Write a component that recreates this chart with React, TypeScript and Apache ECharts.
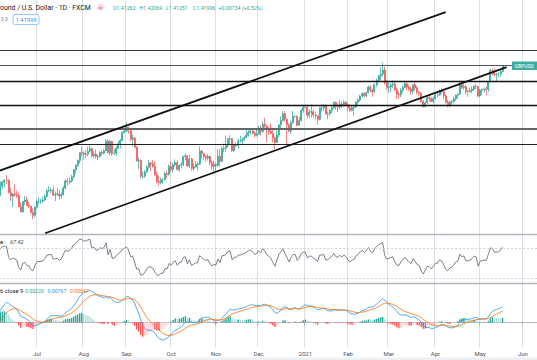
import React, { useEffect, useRef } from "react";
import * as echarts from "echarts";

// ---------- data ----------
const FIRST_DAY = "2020-06-01"; // first category (weekday calendar)
const CATEGORY_COUNT = 269;
const MONTH_NAMES = ["Jan", "Feb", "Mar", "Apr", "May", "Jun", "Jul", "Aug", "Sep", "Oct", "Nov", "Dec"];

// closes before the visible window, used only to warm up RSI / MACD
const WARMUP_CLOSES = [
  1.244, 1.2315, 1.231, 1.2355, 1.2365, 1.243, 1.2415, 1.2445, 1.259, 1.249,
  1.2435, 1.244, 1.2335, 1.2395, 1.2405, 1.2335, 1.2275, 1.2215, 1.2205, 1.213,
  1.2235, 1.2245, 1.2225, 1.2195, 1.2165, 1.221, 1.2295, 1.2275, 1.2325, 1.2345,
];

// daily GBPUSD candles [open, high, low, close], one per weekday from 2020-06-01
const CANDLES: number[][] = [
  // Jun 2020
  [1.2345, 1.251, 1.233, 1.249], [1.249, 1.258, 1.2465, 1.2565], [1.2565, 1.263, 1.2525, 1.258], [1.258, 1.2615, 1.2505, 1.256],
  [1.256, 1.273, 1.254, 1.2665], [1.2665, 1.2735, 1.263, 1.272], [1.272, 1.276, 1.265, 1.2745], [1.2745, 1.2813, 1.27, 1.274],
  [1.274, 1.276, 1.2575, 1.259], [1.259, 1.265, 1.248, 1.2545], [1.2545, 1.258, 1.24, 1.257], [1.257, 1.269, 1.253, 1.256],
  [1.256, 1.2615, 1.252, 1.2545], [1.2545, 1.259, 1.24, 1.241], [1.241, 1.2465, 1.2335, 1.2345], [1.2345, 1.248, 1.233, 1.2475],
  [1.2475, 1.2545, 1.2435, 1.2495], [1.2495, 1.254, 1.2415, 1.2425], [1.2425, 1.2475, 1.239, 1.2415], [1.2415, 1.242, 1.232, 1.2335],
  [1.2335, 1.2385, 1.2252, 1.23], [1.23, 1.2415, 1.227, 1.24],
  // Jul 2020
  [1.24, 1.25, 1.238, 1.2475], [1.2475, 1.253, 1.244, 1.2475], [1.2475, 1.2505, 1.2445, 1.248], [1.248, 1.2535, 1.246, 1.2495],
  [1.2495, 1.2565, 1.248, 1.254], [1.254, 1.263, 1.2525, 1.261], [1.261, 1.267, 1.259, 1.2615], [1.2615, 1.265, 1.258, 1.262],
  [1.262, 1.2665, 1.2545, 1.2555], [1.2555, 1.26, 1.248, 1.2565], [1.2565, 1.2645, 1.255, 1.257], [1.257, 1.262, 1.25, 1.2545],
  [1.2545, 1.259, 1.251, 1.2565], [1.2565, 1.267, 1.2545, 1.2645], [1.2645, 1.276, 1.263, 1.2735], [1.2735, 1.277, 1.2675, 1.272],
  [1.272, 1.278, 1.269, 1.2735], [1.2735, 1.2815, 1.272, 1.279], [1.279, 1.289, 1.277, 1.288], [1.288, 1.295, 1.2835, 1.2935],
  [1.2935, 1.301, 1.2915, 1.2995], [1.2995, 1.31, 1.296, 1.3095], [1.3095, 1.317, 1.3055, 1.309],
  // Aug 2020
  [1.309, 1.311, 1.3005, 1.3075], [1.3075, 1.3125, 1.3025, 1.3075], [1.3075, 1.317, 1.305, 1.3115], [1.3115, 1.3185, 1.31, 1.3145],
  [1.3145, 1.316, 1.3035, 1.3055], [1.3055, 1.311, 1.3035, 1.3075], [1.3075, 1.3135, 1.302, 1.3045], [1.3045, 1.3075, 1.3, 1.3045],
  [1.3045, 1.311, 1.303, 1.31], [1.31, 1.312, 1.3055, 1.309], [1.309, 1.314, 1.307, 1.312], [1.312, 1.3265, 1.3115, 1.324],
  [1.324, 1.3265, 1.309, 1.3095], [1.3095, 1.3255, 1.306, 1.324], [1.324, 1.3245, 1.3055, 1.3085], [1.3085, 1.314, 1.3065, 1.309],
  [1.309, 1.3175, 1.3055, 1.315], [1.315, 1.3245, 1.314, 1.321], [1.321, 1.327, 1.315, 1.325], [1.325, 1.3365, 1.324, 1.335],
  [1.335, 1.3395, 1.334, 1.337],
  // Sep 2020
  [1.337, 1.3482, 1.3355, 1.342], [1.342, 1.3425, 1.334, 1.3375], [1.3375, 1.339, 1.324, 1.3265], [1.3265, 1.3325, 1.3175, 1.328],
  [1.328, 1.3295, 1.3155, 1.3165], [1.3165, 1.318, 1.298, 1.299], [1.299, 1.3035, 1.2885, 1.2995], [1.2995, 1.3015, 1.277, 1.2795],
  [1.2795, 1.286, 1.276, 1.2795], [1.2795, 1.2875, 1.2775, 1.285], [1.285, 1.2935, 1.284, 1.291], [1.291, 1.3005, 1.289, 1.2965],
  [1.2965, 1.298, 1.2865, 1.295], [1.295, 1.3005, 1.2905, 1.292], [1.292, 1.2985, 1.2805, 1.2815], [1.2815, 1.2855, 1.2705, 1.273],
  [1.273, 1.28, 1.2676, 1.2715], [1.2715, 1.278, 1.269, 1.275], [1.275, 1.277, 1.2695, 1.275], [1.275, 1.2855, 1.2745, 1.283],
  [1.283, 1.287, 1.2765, 1.282], [1.282, 1.2945, 1.2805, 1.292],
  // Oct 2020
  [1.292, 1.298, 1.2845, 1.288], [1.288, 1.2965, 1.2845, 1.294], [1.294, 1.301, 1.2915, 1.297], [1.297, 1.3, 1.2865, 1.288],
  [1.288, 1.2945, 1.285, 1.2935], [1.2935, 1.2975, 1.2895, 1.2945], [1.2945, 1.306, 1.2925, 1.3045], [1.3045, 1.3085, 1.3, 1.3055],
  [1.3055, 1.3065, 1.2915, 1.2925], [1.2925, 1.3065, 1.29, 1.3015], [1.3015, 1.303, 1.2865, 1.2895], [1.2895, 1.296, 1.2865, 1.2915],
  [1.2915, 1.299, 1.2905, 1.2945], [1.2945, 1.2975, 1.2865, 1.295], [1.295, 1.3175, 1.294, 1.3115], [1.3115, 1.3135, 1.302, 1.308],
  [1.308, 1.3085, 1.3005, 1.3045], [1.3045, 1.307, 1.298, 1.3025], [1.3025, 1.308, 1.2995, 1.3045], [1.3045, 1.306, 1.2935, 1.297],
  [1.297, 1.3, 1.288, 1.292], [1.292, 1.2995, 1.2855, 1.2945],
  // Nov 2020
  [1.2945, 1.2965, 1.2855, 1.2935], [1.2935, 1.314, 1.2915, 1.305], [1.305, 1.314, 1.2915, 1.2985], [1.2985, 1.3175, 1.2975, 1.3145],
  [1.3145, 1.321, 1.3105, 1.315], [1.315, 1.3315, 1.3105, 1.3185], [1.3185, 1.3285, 1.316, 1.327], [1.327, 1.3315, 1.32, 1.3275],
  [1.3275, 1.328, 1.3105, 1.312], [1.312, 1.319, 1.3105, 1.319], [1.319, 1.3225, 1.3165, 1.3185], [1.3185, 1.3275, 1.315, 1.3245],
  [1.3245, 1.331, 1.322, 1.3245], [1.3245, 1.3285, 1.3205, 1.326], [1.326, 1.3305, 1.324, 1.3285], [1.3285, 1.34, 1.3285, 1.3315],
  [1.3315, 1.34, 1.33, 1.335], [1.335, 1.34, 1.333, 1.337], [1.337, 1.339, 1.333, 1.334], [1.334, 1.337, 1.329, 1.3315],
  [1.3315, 1.3395, 1.33, 1.333],
  // Dec 2020
  [1.333, 1.344, 1.332, 1.339], [1.339, 1.344, 1.331, 1.3365], [1.3365, 1.3495, 1.335, 1.3455], [1.3455, 1.354, 1.341, 1.3435],
  [1.3435, 1.3445, 1.3225, 1.3385], [1.3385, 1.342, 1.332, 1.3365], [1.3365, 1.3465, 1.333, 1.334], [1.334, 1.339, 1.3225, 1.3285],
  [1.3285, 1.33, 1.3135, 1.3225], [1.3225, 1.339, 1.322, 1.332], [1.332, 1.3455, 1.329, 1.345], [1.345, 1.3555, 1.3405, 1.3505],
  [1.3505, 1.3625, 1.35, 1.359], [1.359, 1.3625, 1.349, 1.352], [1.352, 1.3525, 1.319, 1.345], [1.345, 1.347, 1.3355, 1.337],
  [1.337, 1.3505, 1.333, 1.3475], [1.3475, 1.3625, 1.346, 1.3555], [1.3555, 1.357, 1.354, 1.3555], [1.3555, 1.357, 1.343, 1.3445],
  [1.3445, 1.355, 1.3435, 1.3505], [1.3505, 1.365, 1.349, 1.363], [1.363, 1.3705, 1.36, 1.367],
  // Jan 2021
  [1.367, 1.368, 1.366, 1.367], [1.367, 1.3705, 1.353, 1.357], [1.357, 1.3645, 1.354, 1.361], [1.361, 1.371, 1.354, 1.3615],
  [1.3615, 1.364, 1.354, 1.3575], [1.3575, 1.362, 1.352, 1.3565], [1.3565, 1.357, 1.345, 1.352], [1.352, 1.367, 1.3505, 1.3665],
  [1.3665, 1.371, 1.3615, 1.3665], [1.3665, 1.371, 1.3625, 1.3685], [1.3685, 1.371, 1.3575, 1.359], [1.359, 1.362, 1.352, 1.3595],
  [1.3595, 1.3645, 1.356, 1.3635], [1.3635, 1.3685, 1.3595, 1.3665], [1.3665, 1.3745, 1.365, 1.3735], [1.3735, 1.3745, 1.364, 1.3685],
  [1.3685, 1.372, 1.361, 1.3675], [1.3675, 1.376, 1.364, 1.3715], [1.3715, 1.3745, 1.366, 1.3695], [1.3695, 1.376, 1.3675, 1.3735],
  [1.3735, 1.3755, 1.3685, 1.3705],
  // Feb 2021
  [1.3705, 1.373, 1.363, 1.3665], [1.3665, 1.371, 1.361, 1.3635], [1.3635, 1.3695, 1.362, 1.3665], [1.3665, 1.3705, 1.3565, 1.3675],
  [1.3675, 1.375, 1.3665, 1.374], [1.374, 1.3785, 1.3705, 1.3765], [1.3765, 1.383, 1.3745, 1.3815], [1.3815, 1.3865, 1.3795, 1.3845],
  [1.3845, 1.3865, 1.3795, 1.382], [1.382, 1.3865, 1.38, 1.3855], [1.3855, 1.395, 1.385, 1.393], [1.393, 1.3955, 1.386, 1.389],
  [1.389, 1.3905, 1.3805, 1.387], [1.387, 1.3975, 1.3855, 1.396], [1.396, 1.4035, 1.393, 1.401], [1.401, 1.408, 1.4, 1.4075],
  [1.4075, 1.418, 1.402, 1.4095], [1.4095, 1.4241, 1.406, 1.4145], [1.4145, 1.4185, 1.396, 1.3985], [1.3985, 1.4015, 1.389, 1.3925],
  // Mar 2021
  [1.3925, 1.399, 1.386, 1.3935], [1.3935, 1.398, 1.3865, 1.3955], [1.3955, 1.4015, 1.3915, 1.3965], [1.3965, 1.4, 1.388, 1.3895],
  [1.3895, 1.392, 1.3775, 1.384], [1.384, 1.388, 1.378, 1.383], [1.383, 1.3915, 1.38, 1.389], [1.389, 1.3945, 1.386, 1.3925],
  [1.3925, 1.4, 1.3915, 1.397], [1.397, 1.399, 1.3885, 1.393], [1.393, 1.396, 1.388, 1.3905], [1.3905, 1.3935, 1.3835, 1.3875],
  [1.3875, 1.397, 1.384, 1.396], [1.396, 1.4, 1.389, 1.392], [1.392, 1.3945, 1.3835, 1.3865], [1.3865, 1.388, 1.381, 1.385],
  [1.385, 1.386, 1.373, 1.3745], [1.3745, 1.3765, 1.367, 1.368], [1.368, 1.3745, 1.367, 1.373], [1.373, 1.381, 1.3715, 1.3795],
  [1.3795, 1.3825, 1.3745, 1.3785], [1.3785, 1.3805, 1.374, 1.3745], [1.3745, 1.381, 1.372, 1.3785],
  // Apr 2021
  [1.3785, 1.385, 1.3765, 1.383], [1.383, 1.386, 1.38, 1.383], [1.383, 1.39, 1.3815, 1.3885], [1.3885, 1.392, 1.3845, 1.387],
  [1.387, 1.388, 1.3775, 1.3815], [1.3815, 1.3835, 1.372, 1.3735], [1.3735, 1.3765, 1.367, 1.3705], [1.3705, 1.3755, 1.367, 1.374],
  [1.374, 1.3765, 1.3705, 1.375], [1.375, 1.3805, 1.373, 1.378], [1.378, 1.3835, 1.3755, 1.3825], [1.3825, 1.3845, 1.378, 1.384],
  [1.384, 1.401, 1.383, 1.3955], [1.3955, 1.401, 1.3905, 1.3925], [1.3925, 1.397, 1.3895, 1.3935], [1.3935, 1.396, 1.384, 1.3875],
  [1.3875, 1.389, 1.3805, 1.387], [1.387, 1.3925, 1.386, 1.3885], [1.3885, 1.394, 1.385, 1.3905], [1.3905, 1.395, 1.388, 1.394],
  [1.394, 1.3975, 1.39, 1.3935], [1.3935, 1.3945, 1.38, 1.3815],
  // May 2021
  [1.3815, 1.39, 1.38, 1.389], [1.389, 1.3915, 1.3825, 1.3895], [1.3895, 1.3925, 1.386, 1.3905], [1.3905, 1.3935, 1.382, 1.39],
  [1.39, 1.4005, 1.387, 1.3995], [1.3995, 1.4165, 1.3985, 1.414], [1.414, 1.4165, 1.4075, 1.4135], [1.4135, 1.4165, 1.406, 1.409],
  [1.409, 1.411, 1.4005, 1.4095], [1.4095, 1.4115, 1.4055, 1.4095], [1.4095, 1.4145, 1.406, 1.41262], [1.41262, 1.42069, 1.41251, 1.41996],
];

// horizontal levels drawn on the chart
const LEVELS = [1.43747, 1.42476, 1.39896, 1.36566, 1.3438, 1.31634];
// trend channel anchors [date, price]
const CHANNEL_UPPER = [["2020-06-01", 1.28337], ["2021-04-08", 1.48818]];
const CHANNEL_LOWER = [["2020-07-07", 1.20704], ["2021-05-20", 1.41823]];

const RSI_BANDS = [70, 30];
const HEADER = {
  title: "ound / U.S. Dollar · 1D · FXCM",
  ohlc: ["O1.41262", "H1.42069", "L1.41251", "C1.41996", "+0.00734", "(+0.52%)"],
  sub: "0.3",
  price: "1.41999",
  rsi: ["e", "67.42"],
  macd: ["6 close 9", "0.00220", "0.00767", "0.00547"],
  tag: "GBPUSD",
};

// ---------- helpers ----------
function weekdayDates(start: string, count: number): string[] {
  const out: string[] = [];
  const d = new Date(start + "T00:00:00Z");
  while (out.length < count) {
    const wd = d.getUTCDay();
    if (wd !== 0 && wd !== 6) out.push(d.toISOString().slice(0, 10));
    d.setUTCDate(d.getUTCDate() + 1);
  }
  return out;
}
function ema(arr: number[], n: number): number[] {
  const k = 2 / (n + 1);
  const out: number[] = [];
  let prev = arr[0];
  arr.forEach((v, i) => {
    prev = i === 0 ? v : v * k + prev * (1 - k);
    out.push(prev);
  });
  return out;
}
function rsi(arr: number[], n: number): number[] {
  const out = arr.map(() => NaN);
  let g = 0, l = 0;
  for (let i = 1; i <= n; i++) {
    const d = arr[i] - arr[i - 1];
    if (d > 0) g += d; else l -= d;
  }
  g /= n; l /= n;
  out[n] = 100 - 100 / (1 + g / l);
  for (let i = n + 1; i < arr.length; i++) {
    const d = arr[i] - arr[i - 1];
    g = (g * (n - 1) + Math.max(d, 0)) / n;
    l = (l * (n - 1) + Math.max(-d, 0)) / n;
    out[i] = l === 0 ? 100 : 100 - 100 / (1 + g / l);
  }
  return out;
}

export default function App() {
  const ref = useRef<HTMLDivElement>(null);
  useEffect(() => {
    document.body.style.margin = "0";
    if (!ref.current) return;
    const chart = echarts.init(ref.current, undefined, { renderer: "svg" });

    const dates = weekdayDates(FIRST_DAY, CATEGORY_COUNT);
    const isMonthStart = (i: number) => i > 0 && dates[i].slice(5, 7) !== dates[i - 1].slice(5, 7);
    const monthLabel = (v: string) => {
      const m = parseInt(v.slice(5, 7), 10) - 1;
      return m === 0 ? v.slice(0, 4) : MONTH_NAMES[m];
    };

    const closes = [...WARMUP_CLOSES, ...CANDLES.map((c) => c[3])];
    const W = WARMUP_CLOSES.length;
    const rsiAll = rsi(closes, 14);
    const e12 = ema(closes, 12);
    const e26 = ema(closes, 26);
    const macdAll = e12.map((v, i) => v - e26[i]);
    const sigAll = ema(macdAll, 9);
    const histAll = macdAll.map((v, i) => v - sigAll[i]);

    const rsiData = rsiAll.slice(W);
    const macdData = macdAll.slice(W);
    const sigData = sigAll.slice(W);
    const histData = histAll.slice(W).map((h, i) => {
      const p = histAll[W + i - 1];
      const color = h >= 0 ? (h > p ? "#26a69a" : "#b2dfdb") : (h < p ? "#ff5252" : "#ffcdd2");
      return { value: h, itemStyle: { color } };
    });
    const candleData = CANDLES.map(([o, h, l, c]) => [o, c, l, h]);

    const font = "Roboto, 'Liberation Sans', Arial, sans-serif";
    const gridLeft = -8.74;
    const gridWidth = CATEGORY_COUNT * 2.033;
    const sepColor = "#b2b5be";
    const vGrid = { show: true, interval: (i: number) => isMonthStart(i), lineStyle: { color: "#dcdfe6", width: 1 } };

    const mkX = (gridIndex: number, labels: boolean) => ({
      type: "category",
      gridIndex,
      data: dates,
      boundaryGap: true,
      axisLine: { show: true, lineStyle: { color: sepColor, width: labels ? 1 : 1.4 } },
      axisTick: labels
        ? { show: true, length: 3, interval: (i: number) => isMonthStart(i), lineStyle: { color: "#b2b5be" } }
        : { show: false },
      axisLabel: labels
        ? { show: true, interval: (i: number) => isMonthStart(i), formatter: monthLabel, fontSize: 6, color: "#50535e", margin: 3, fontFamily: font, hideOverlap: false }
        : { show: false },
      splitLine: vGrid,
    });

    const levelStyles = [
      { color: "#333", width: 1 },
      { color: "#555", width: 1 },
      { color: "#111", width: 1.4 },
      { color: "#111", width: 1.4 },
      { color: "#666", width: 2 },
      { color: "#222", width: 1.2 },
    ];

    const txt = (x: number, y: number, text: string, fill: string, size: number, extra: any = {}) => ({
      type: "text", x, y, z: 100,
      style: { text, fill, fontSize: size, fontFamily: font, verticalAlign: "middle", ...extra },
    });

    const ohlcX = [113, 139.5, 166, 193, 218.5, 242];
    const macdX = [25, 47.5, 70];

    chart.setOption({
      animation: false,
      backgroundColor: "#ffffff",
      grid: [
        { left: gridLeft, width: gridWidth, top: 0, height: 234, containLabel: false, outerBoundsMode: "none" },
        { left: gridLeft, width: gridWidth, top: 234, height: 49, containLabel: false, outerBoundsMode: "none" },
        { left: gridLeft, width: gridWidth, top: 283, height: 64, containLabel: false, outerBoundsMode: "none" },
      ],
      xAxis: [mkX(0, false), mkX(1, false), mkX(2, true)],
      yAxis: [
        { type: "value", gridIndex: 0, min: 1.20615, max: 1.50356, show: false },
        { type: "value", gridIndex: 1, min: 23.8, max: 88.1, show: false },
        { type: "value", gridIndex: 2, min: -0.01235, max: 0.01965, show: false },
      ],
      series: [
        {
          type: "candlestick",
          xAxisIndex: 0,
          yAxisIndex: 0,
          data: candleData,
          barWidth: 1.5,
          itemStyle: { color: "#26a69a", color0: "#ef5350", borderColor: "#26a69a", borderColor0: "#ef5350", borderWidth: 0.7 },
          markLine: {
            silent: true,
            symbol: ["none", "none"],
            label: { show: false },
            animation: false,
            data: [
              ...LEVELS.map((v, i) => ({ yAxis: v, lineStyle: { type: "solid", ...levelStyles[i] } })),
              [
                { coord: CHANNEL_UPPER[0], lineStyle: { type: "solid", color: "#111", width: 1.7 } },
                { coord: CHANNEL_UPPER[1] },
              ],
              [
                { coord: CHANNEL_LOWER[0], lineStyle: { type: "solid", color: "#111", width: 1.7 } },
                { coord: CHANNEL_LOWER[1] },
              ],
            ],
          },
        },
        {
          type: "line",
          xAxisIndex: 1,
          yAxisIndex: 1,
          data: rsiData.map((v) => (isNaN(v) ? "-" : v)),
          showSymbol: false,
          lineStyle: { color: "#5d606b", width: 0.8 },
          markLine: {
            silent: true,
            symbol: ["none", "none"],
            label: { show: false },
            data: RSI_BANDS.map((v) => ({ yAxis: v })),
            lineStyle: { type: [2, 2], color: "#c3c6ce", width: 0.8 },
          },
        },
        {
          type: "bar",
          xAxisIndex: 2,
          yAxisIndex: 2,
          data: histData,
          barWidth: 1.4,
        },
        {
          type: "line",
          xAxisIndex: 2,
          yAxisIndex: 2,
          data: macdData,
          showSymbol: false,
          lineStyle: { color: "#2196f3", width: 0.8 },
        },
        {
          type: "line",
          xAxisIndex: 2,
          yAxisIndex: 2,
          data: sigData,
          showSymbol: false,
          lineStyle: { color: "#ff6d00", width: 0.8 },
        },
      ],
      graphic: [
        txt(0, 7.5, HEADER.title, "#131722", 6.9),
        { type: "circle", z: 100, shape: { cx: 100.5, cy: 7.5, r: 3.6 }, style: { fill: "#fcd9dc" } },
        txt(100.5, 7.3, "=", "#f23645", 6, { align: "center", fontWeight: "bold" }),
        ...HEADER.ohlc.map((t, i) => txt(ohlcX[i], 7.5, t, "#26a69a", 5.2)),
        txt(1, 19.5, HEADER.sub, "#787b86", 4.8),
        { type: "rect", z: 100, shape: { x: 13, y: 14.5, width: 26, height: 10, r: 2 }, style: { fill: "#ffffff", stroke: "#7dbbf5", lineWidth: 0.8 } },
        txt(26, 19.7, HEADER.price, "#2196f3", 5.8, { align: "center" }),
        txt(0, 241.5, HEADER.rsi[0], "#131722", 6),
        txt(10, 241.5, HEADER.rsi[1], "#434651", 5.6, { fontStyle: "italic" }),
        txt(0, 290.5, HEADER.macd[0], "#131722", 5.8),
        txt(macdX[0], 290.5, HEADER.macd[1], "#26a69a", 5.2),
        txt(macdX[1], 290.5, HEADER.macd[2], "#2196f3", 5.2),
        txt(macdX[2], 290.5, HEADER.macd[3], "#ff6d00", 5.2),
        { type: "rect", z: 100, shape: { x: 512, y: 61.5, width: 26, height: 8.5 }, style: { fill: "#3fae9f" } },
        txt(514.5, 65.8, HEADER.tag, "#ffffff", 5),
        { type: "rect", z: 100, shape: { x: 0, y: 357.5, width: 537, height: 3 }, style: { fill: "#eef0f3" } },
      ],
    });
    return () => chart.dispose();
  }, []);
  return <div ref={ref} style={{ width: 537, height: 360 }} />;
}
